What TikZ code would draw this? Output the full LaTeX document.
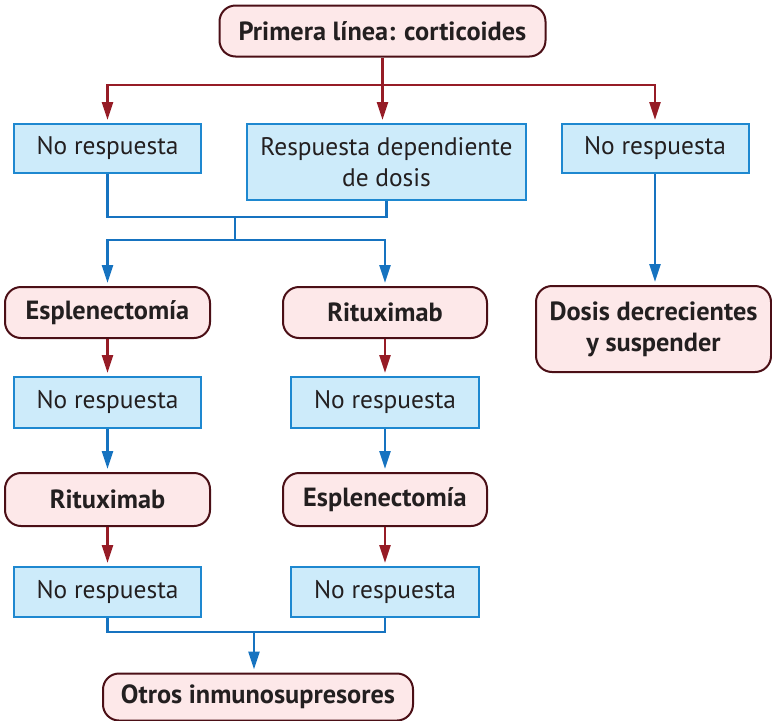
\documentclass[tikz,border=0pt]{standalone}
\usepackage{fontspec}
\setmainfont{PT Sans}
\usetikzlibrary{arrows.meta}

\definecolor{flechaRoja}{RGB}{150,28,38}
\definecolor{flechaAzul}{RGB}{22,115,192}
\definecolor{cajaAzul}{RGB}{205,235,250}
\definecolor{bordeAzul}{RGB}{30,136,208}
\definecolor{cajaRosa}{RGB}{253,232,233}
\definecolor{bordeRosa}{RGB}{75,15,22}
\definecolor{texto}{RGB}{35,31,32}

\begin{document}
\begin{tikzpicture}[x=1pt, y=-1pt,
        respuesta/.style={draw=bordeAzul, fill=cajaAzul, line width=2pt, text=texto,
            font=\fontsize{25.4}{31}\selectfont, align=center, inner sep=0pt},
        tratamiento/.style={draw=bordeRosa, fill=cajaRosa, line width=2pt, text=texto,
            rounded corners=16pt, font=\fontsize{26.3}{31}\selectfont\bfseries, align=center, inner sep=0pt},
        rojo/.style={draw=flechaRoja, line width=2.6pt},
        azul/.style={draw=flechaAzul, line width=2.6pt},
        punta/.style={-{Triangle[length=18pt,width=11pt]}, shorten >=3pt},
        puntas/.style={{Triangle[length=18pt,width=11pt]}-{Triangle[length=18pt,width=11pt]}, shorten >=3pt, shorten <=3pt}]

        \useasboundingbox (0,0) rectangle (772,721);

        % cajas
        \node[tratamiento, minimum width=326, minimum height=51] (primera) at (382.5,31) {Primera línea: corticoides};

        \node[respuesta, minimum width=187, minimum height=49] (nr1) at (107.5,148.5) {No respuesta};
        \node[respuesta, minimum width=279, minimum height=76] (dependiente) at (386.5,162) {Respuesta dependiente\\de dosis};
        \node[respuesta, minimum width=187, minimum height=49] (nr2) at (655,148.5) {No respuesta};

        \node[tratamiento, minimum width=205, minimum height=51] (esple1) at (107.5,312.5) {Esplenectomía};
        \node[tratamiento, minimum width=204, minimum height=51] (ritux1) at (385,312.5) {Rituximab};
        \node[tratamiento, minimum width=235, minimum height=86] (dosis) at (653.5,329) {Dosis decrecientes\\y suspender};

        \node[respuesta, minimum width=187, minimum height=51] (nr3) at (107.5,402.5) {No respuesta};
        \node[respuesta, minimum width=188, minimum height=51] (nr4) at (385,402.5) {No respuesta};

        \node[tratamiento, minimum width=205, minimum height=53] (ritux2) at (107.5,499.5) {Rituximab};
        \node[tratamiento, minimum width=204, minimum height=53] (esple2) at (385,499.5) {Esplenectomía};

        \node[respuesta, minimum width=187, minimum height=50] (nr5) at (107.5,592) {No respuesta};
        \node[respuesta, minimum width=188, minimum height=50] (nr6) at (385,592) {No respuesta};

        \node[tratamiento, minimum width=310, minimum height=47] (otros) at (258,697) {Otros inmunosupresores};

        % puntos de union
        \coordinate (rojoH) at (382.5,85);
        \coordinate (unionAzul) at (235,217);
        \coordinate (ramaAzul) at (235,240);
        \coordinate (unionBaja) at (254,632);

        % flechas rojas
        \draw[rojo, punta] (primera.south) -- (primera.south |- dependiente.north);
        \draw[rojo, puntas] (nr1.north) -- (rojoH -| nr1) -- (rojoH -| nr2) -- (nr2.north);
        \draw[rojo, punta] (esple1) -- (nr3);
        \draw[rojo, punta] (ritux1) -- (nr4);
        \draw[rojo, punta] (ritux2) -- (nr5);
        \draw[rojo, punta] (esple2) -- (nr6);

        % flechas azules
        \draw[azul] (nr1.south) -- (unionAzul -| nr1) -- (unionAzul -| dependiente) -- (dependiente.south);
        \draw[azul] (unionAzul) -- (ramaAzul);
        \draw[azul, puntas] (esple1.north) -- (ramaAzul -| esple1) -- (ramaAzul -| ritux1) -- (ritux1.north);
        \draw[azul, punta] (nr2.south) -- (nr2.south |- dosis.north);
        \draw[azul, punta] (nr3) -- (ritux2);
        \draw[azul, punta] (nr4) -- (esple2);
        \draw[azul] (nr5.south) -- (unionBaja -| nr5) -- (unionBaja -| nr6) -- (nr6.south);
        \draw[azul, punta] (unionBaja) -- (unionBaja |- otros.north);
    \end{tikzpicture}
\end{document}
